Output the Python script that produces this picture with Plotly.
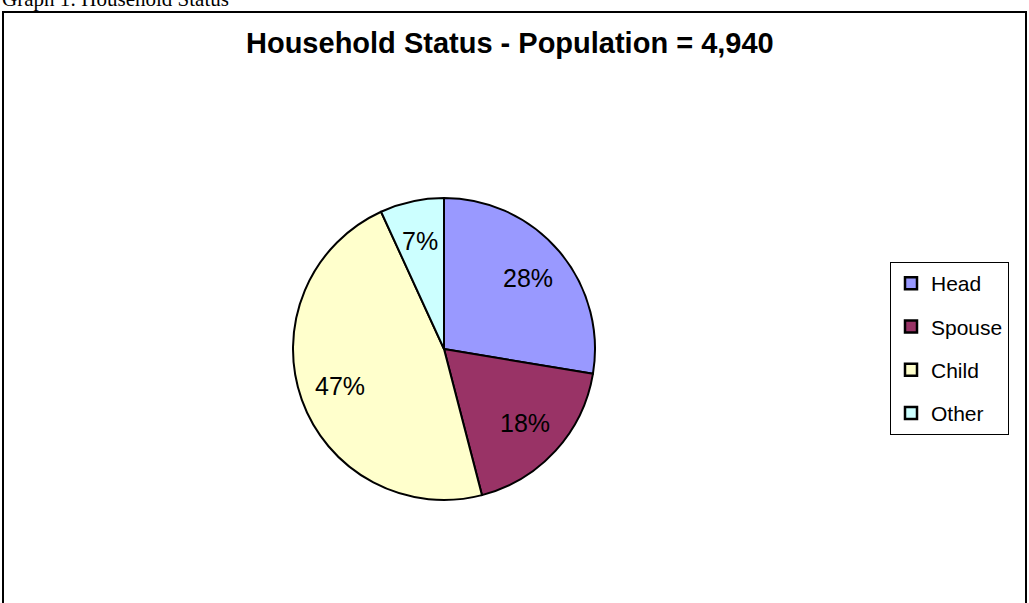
import math
import plotly.graph_objects as go

# Data
categories = ["Head", "Spouse", "Child", "Other"]
counts = [1365, 905, 2332, 338]
colors = ["#9999FF", "#993366", "#FFFFCC", "#CCFFFF"]
title_text = "Household Status - Population = 4,940"
caption_text = "Graph 1: Household Status"

W, H = 1029, 603

fig = go.Figure()

# pie geometry (pixels)
cx, cy, r = 444, 349, 151
fig.add_trace(go.Pie(
    labels=categories,
    values=counts,
    marker=dict(colors=colors, line=dict(color="black", width=2)),
    sort=False,
    direction="clockwise",
    rotation=0,
    textinfo="none",
    showlegend=False,
    hoverinfo="label+percent+value",
    domain=dict(x=[(cx - r) / W, (cx + r) / W],
                y=[(H - cy - r) / H, (H - cy + r) / H]),
))

# percentage labels placed along each slice's mid-angle (derived from data)
total = sum(counts)
annotations = []
cum = 0
for v in counts:
    mid = (cum + v / 2) / total * 2 * math.pi
    cum += v
    lr = 0.73 * r
    px = cx + lr * math.sin(mid)
    py = cy - lr * math.cos(mid)
    annotations.append(dict(
        text=f"{round(100 * v / total)}%", xref="paper", yref="paper",
        x=px / W, y=1 - py / H, xanchor="center", yanchor="middle",
        showarrow=False,
        font=dict(family="Liberation Sans, Arial", size=25, color="black")))

# legend entries (dummy traces so legend spacing can match)
for cat, col in zip(categories, colors):
    fig.add_trace(go.Scatter(
        x=[None], y=[None], mode="markers", name=cat, legendgroup=cat,
        marker=dict(symbol="square", size=12, color=col,
                    line=dict(color="black", width=2.5)),
        showlegend=True, hoverinfo="skip",
    ))

annotations += [
    dict(text="<b>" + title_text + "</b>", xref="paper", yref="paper",
         x=510 / W, y=1 - 43 / H, xanchor="center", yanchor="middle",
         showarrow=False,
         font=dict(family="Liberation Sans, Arial", size=29, color="black")),
    dict(text=caption_text, xref="paper", yref="paper",
         x=0, y=1, xanchor="left", yanchor="bottom", yshift=-13,
         showarrow=False,
         font=dict(family="Liberation Serif, Times New Roman", size=21, color="black")),
]

fig.update_layout(
    width=W, height=H,
    margin=dict(l=0, r=0, t=0, b=0),
    paper_bgcolor="white",
    plot_bgcolor="white",
    xaxis=dict(visible=False),
    yaxis=dict(visible=False),
    font=dict(family="Liberation Sans, Arial", color="black"),
    legend=dict(
        x=890 / W, y=1 - 262 / H, xanchor="left", yanchor="top",
        bordercolor="black", borderwidth=1, bgcolor="white",
        font=dict(size=21, family="Liberation Sans, Arial", color="black"),
        tracegroupgap=13, itemwidth=30,
        entrywidth=90, entrywidthmode="pixels",
    ),
    shapes=[dict(type="rect", xref="paper", yref="paper",
                 x0=3 / W, x1=1026 / W, y0=-0.05, y1=1 - 12 / H,
                 line=dict(color="black", width=2), fillcolor="rgba(0,0,0,0)",
                 layer="below")],
    annotations=annotations,
)

fig.write_html("out.html", config={"displayModeBar": False},
               post_script="document.body.style.margin='0px';document.body.style.overflow='hidden';")
